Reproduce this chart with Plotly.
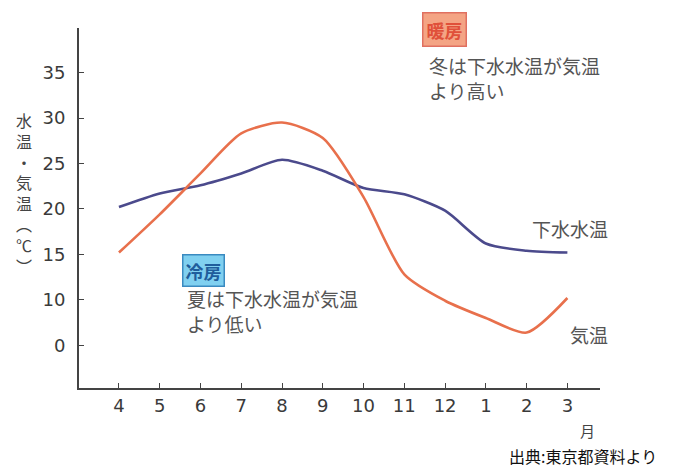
import plotly.graph_objects as go

months = ["4", "5", "6", "7", "8", "9", "10", "11", "12", "1", "2", "3"]
air_temp = [15.2, 19.4, 23.9, 28.3, 29.5, 27.8, 21.3, 12.8, 9.9, 8.0, 6.4, 10.2]
sewer_temp = [20.2, 21.7, 22.6, 23.9, 25.4, 24.2, 22.3, 21.6, 19.8, 16.2, 15.4, 15.2]

# the printed axis is not linear at the bottom: the "0" tick sits where 5 would be
y_tickvals = [5, 10, 15, 20, 25, 30, 35]
y_ticktext = ["0", "10", "15", "20", "25", "30", "35"]

# page has an 8px body margin, so the figure is drawn 8px in from the corner
OFF = 8
W, H = 681 - OFF, 470 - OFF
L, R, T, B = 79, 600, 28, 388  # plot area in page pixels


def px(x, y):
    return (x - L) / (R - L), (B - y) / (B - T)


jp = "Noto Sans CJK JP, sans-serif"
num = "DejaVu Sans, sans-serif"

fig = go.Figure()
fig.add_trace(go.Scatter(x=months, y=sewer_temp, mode="lines", name="下水水温",
                         line=dict(color="#4b4a8c", width=2.6, shape="spline", smoothing=0.7)))
fig.add_trace(go.Scatter(x=months, y=air_temp, mode="lines", name="気温",
                         line=dict(color="#e8704c", width=2.6, shape="spline", smoothing=0.7)))

fig.update_xaxes(type="category", range=[-0.98, 11.8], showline=True, linecolor="#444",
                 linewidth=2, ticks="inside", ticklen=5, tickcolor="#444", showgrid=False,
                 zeroline=False, tickfont=dict(family=num, size=18, color="#3a3a3a"),
                 ticklabelstandoff=0)
fig.update_yaxes(range=[0.3, 39.9], tickvals=y_tickvals, ticktext=y_ticktext, showline=True,
                 linecolor="#444", linewidth=2, ticks="inside", ticklen=5, tickcolor="#444",
                 showgrid=False, zeroline=False,
                 tickfont=dict(family=num, size=18, color="#3a3a3a"), ticklabelstandoff=8)

ann = []


def text(x, y, s, size=19, color="#555", anchor="left", **kw):
    ax, ay = px(x, y)
    ann.append(dict(x=ax, y=ay, xref="paper", yref="paper", text=s, showarrow=False,
                    xanchor=anchor, yanchor="middle", align=kw.pop("align", anchor),
                    font=dict(family=jp, size=size, color=color), **kw))


text(14, 193, "水<br>温<br>・<br>気<br>温<br>︵<br>℃<br>︶", size=16, color="#444",
     align="center")
text(422, 30, "<b>暖房</b>", size=18, color="#e0503a",
     bgcolor="#f4a484", bordercolor="#e07060", borderwidth=1.5, borderpad=3)
text(427, 78, "冬は下水水温が気温<br>より高い")
text(182, 270, "<b>冷房</b>", size=18, color="#1f5d9c",
     bgcolor="#80d0f0", bordercolor="#3a8ac0", borderwidth=1.5, borderpad=2)
text(185, 311, "夏は下水水温が気温<br>より低い")
text(530, 228, "下水水温")
text(568, 334, "気温")
text(578, 430, "月", size=15, color="#444")
text(507, 456, "出典:東京都資料より", size=16, color="#111")

fig.update_layout(width=W, height=H,
                  margin=dict(l=L - OFF, r=W - (R - OFF), t=T - OFF, b=H - (B - OFF)),
                  paper_bgcolor="white", plot_bgcolor="white", showlegend=False,
                  annotations=ann)

fig.write_html("out.html")
